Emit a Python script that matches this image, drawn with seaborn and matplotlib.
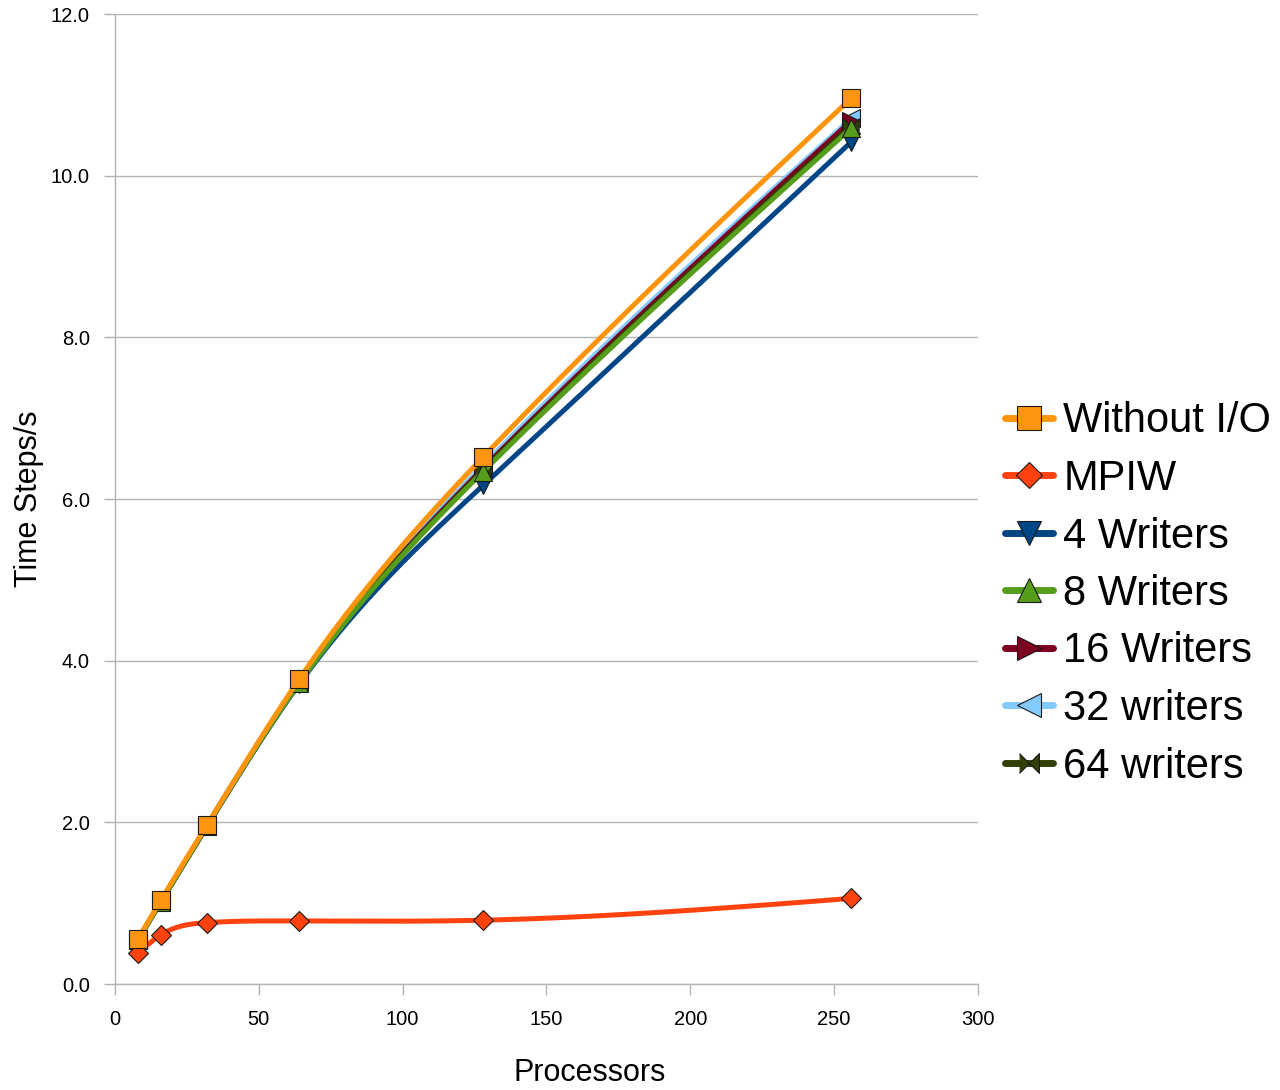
import numpy as np
import matplotlib
matplotlib.use("Agg")
import matplotlib.pyplot as plt
from matplotlib.lines import Line2D
import seaborn as sns

# data
processors = [8, 16, 32, 64, 128, 256]
without_io = [0.56, 1.04, 1.97, 3.77, 6.52, 10.96]
mpiw = [0.38, 0.61, 0.76, 0.78, 0.79, 1.06]
writers_4 = [0.55, 1.02, 1.95, 3.71, 6.17, 10.42]
writers_8 = [0.55, 1.02, 1.96, 3.72, 6.34, 10.59]
writers_16 = [0.55, 1.02, 1.96, 3.73, 6.38, 10.68]
writers_32 = [0.55, 1.02, 1.96, 3.74, 6.42, 10.71]
writers_64 = [0.55, 1.02, 1.96, 3.73, 6.36, 10.62]

series_names = ["Without I/O", "MPIW", "4 Writers", "8 Writers",
                "16 Writers", "32 writers", "64 writers"]


def natural_spline(x, y, n=300):
    # natural cubic spline, only used to draw the smoothed line
    x = np.asarray(x, float)
    y = np.asarray(y, float)
    k = len(x)
    h = np.diff(x)
    A = np.zeros((k, k))
    b = np.zeros(k)
    A[0, 0] = A[-1, -1] = 1
    for i in range(1, k - 1):
        A[i, i - 1] = h[i - 1]
        A[i, i] = 2 * (h[i - 1] + h[i])
        A[i, i + 1] = h[i]
        b[i] = 3 * ((y[i + 1] - y[i]) / h[i] - (y[i] - y[i - 1]) / h[i - 1])
    c = np.linalg.solve(A, b)
    xs = np.linspace(x[0], x[-1], n)
    idx = np.clip(np.searchsorted(x, xs) - 1, 0, k - 2)
    dx = xs - x[idx]
    bb = (y[idx + 1] - y[idx]) / h[idx] - h[idx] * (2 * c[idx] + c[idx + 1]) / 3
    d = (c[idx + 1] - c[idx]) / (3 * h[idx])
    ys = y[idx] + bb * dx + c[idx] * dx ** 2 + d * dx ** 3
    return xs, ys


bowtie = [(-1, 1), (1, -1), (1, 1), (-1, -1)]

# name, values, color, marker, marker size, zorder
styles = [
    ("Without I/O", without_io, "#FF950E", "s", 13.5, 9),
    ("MPIW", mpiw, "#FF420E", "D", 10, 8),
    ("4 Writers", writers_4, "#004586", "v", 13, 3),
    ("8 Writers", writers_8, "#579D1C", "^", 13, 7),
    ("16 Writers", writers_16, "#7E0021", ">", 13, 5),
    ("32 writers", writers_32, "#83CAFF", "<", 13, 4),
    ("64 writers", writers_64, "#314004", bowtie, 11, 6),
]

sns.set_theme(style="white")
plt.rcParams['font.family'] = ['Liberation Sans', 'DejaVu Sans']

fig = plt.figure(figsize=(12.8, 10.9), dpi=100)
ax = fig.add_axes([0.0898, 0.0972, 0.6742, 0.8899])

handles = []
for name, vals, color, marker, ms, z in styles:
    xs, ys = natural_spline(processors, vals)
    sns.lineplot(x=xs, y=ys, color=color, lw=3.6, ax=ax, zorder=z,
                 sort=False, legend=False)
    ax.plot(processors, vals, linestyle="none", marker=marker, ms=ms,
            mfc=color, mec="#1a1a1a", mew=0.8, zorder=z + 0.5)
    handles.append(Line2D([0], [0], color=color, lw=5, marker=marker,
                          ms=ms * 1.3, mfc=color, mec="#1a1a1a", mew=0.8))

ax.set_xlim(0, 300)
ax.set_ylim(0, 12)
ax.set_xticks(range(0, 301, 50))
ax.set_yticks(np.arange(0, 12.1, 2))
ax.yaxis.set_major_formatter(matplotlib.ticker.FormatStrFormatter("%.1f"))

ax.yaxis.grid(True, color="#b3b3b3", lw=1)
ax.xaxis.grid(False)
ax.set_axisbelow(True)
for side in ["top", "right"]:
    ax.spines[side].set_visible(False)
for side in ["left", "bottom"]:
    ax.spines[side].set_color("#b3b3b3")
    ax.spines[side].set_linewidth(1)

ax.tick_params(axis="both", which="major", direction="out", length=8,
               width=1, color="#b3b3b3", labelsize=14.5, labelcolor="black")
ax.tick_params(axis="y", pad=10, left=True)
ax.tick_params(axis="x", pad=11, bottom=True)

ax.set_xlabel("Processors", fontsize=22, color="black")
ax.set_ylabel("Time Steps/s", fontsize=22, color="black")
ax.xaxis.set_label_coords(0.5504, -0.0765)
ax.yaxis.set_label_coords(-0.082, 0.5)

leg = ax.legend(handles, series_names, loc="center left",
                bbox_to_anchor=(1005 / 1280, 1 - 594 / 1090),
                bbox_transform=fig.transFigure, frameon=False, fontsize=30,
                handlelength=1.15, handletextpad=0.25, labelspacing=0.42,
                borderpad=0, borderaxespad=0)
for t in leg.get_texts():
    t.set_color("black")

fig.savefig("out.png", dpi=100)
